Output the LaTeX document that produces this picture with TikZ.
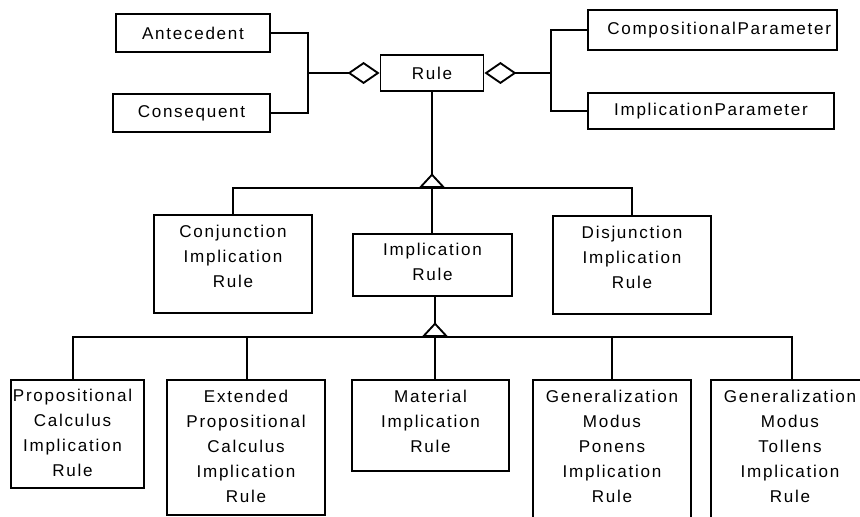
\documentclass[tikz,border=0pt]{standalone}
\usepackage{fontspec}
\setmainfont[LetterSpace=10]{Liberation Sans}
\usetikzlibrary{arrows.meta}
\newcommand\mlines[1]{\begin{tabular}{@{}c@{}}#1\end{tabular}}
\newcommand\upby[2]{\raisebox{#1}[\height][\depth]{#2}}
\tikzset{
  aggr/.tip={Diamond[open,length=24pt,width=16.5pt,line width=1.4pt]},
  inh/.tip={Triangle[open,reversed,length=11pt,width=20pt,line width=1.4pt]}}
\begin{document}
\begin{tikzpicture}[x=0.75pt,y=-0.75pt,
  umlbox/.style={draw,line width=1.4pt,inner sep=0pt,align=center,
    font={\fontsize{12.8}{18.75}\selectfont}},
  conn/.style={line width=1.4pt}]
\useasboundingbox (0,0) rectangle (860,517);
\clip (0,0) rectangle (860,517);
\fill[white] (0,0) rectangle (860,517);
% top row
\node[umlbox,minimum width=115.5pt,minimum height=28.5pt] (ante) at (193,33) {Antecedent};
\node[umlbox,minimum width=117.75pt,minimum height=28.5pt] (cons) at (191.5,113) {Consequent};
\node[umlbox,minimum width=77.25pt,minimum height=27pt] (rule) at (432,73) {Rule};
\node[umlbox,minimum width=186.75pt,minimum height=30pt] (cp) at (712.5,30) {\hspace*{10pt}CompositionalParameter};
\node[umlbox,minimum width=184.5pt,minimum height=27pt] (ip) at (711,111) {ImplicationParameter};
% middle row
\node[umlbox,minimum width=118.5pt,minimum height=73.5pt] (conj) at (233,264) {\upby{4.9pt}{\mlines{Conjunction\\Implication\\Rule}}};
\node[umlbox,minimum width=119.25pt,minimum height=46.5pt] (impl) at (432.5,265) {\upby{1.5pt}{\mlines{Implication\\Rule}}};
\node[umlbox,minimum width=118.5pt,minimum height=73.5pt] (disj) at (632,265) {\upby{5.2pt}{\mlines{Disjunction\\Implication\\Rule}}};
% bottom row
\node[umlbox,minimum width=99.75pt,minimum height=81pt] (prop) at (77.5,434) {\mlines{Propositional\\Calculus\\Implication\\Rule}\hspace*{7.5pt}};
\node[umlbox,minimum width=118.5pt,minimum height=101.25pt] (ext) at (246,447.5) {\mlines{Extended\\Propositional\\Calculus\\Implication\\Rule}};
\node[umlbox,minimum width=117.75pt,minimum height=68.25pt] (mat) at (430.5,425.5) {\upby{2.6pt}{\mlines{Material\\Implication\\Rule}}};
\node[umlbox,minimum width=118.5pt,minimum height=112.5pt] (gmp) at (612,455) {\upby{5.6pt}{\mlines{Generalization\\Modus\\Ponens\\Implication\\Rule}}};
\node[umlbox,minimum width=118.5pt,minimum height=112.5pt] (gmt) at (790,455) {\upby{5.6pt}{\mlines{Generalization\\Modus\\Tollens\\Implication\\Rule}}};
% junction points
\coordinate (jl) at (308,73);
\coordinate (jr) at (551,73);
\coordinate (t1) at (432,188);
\coordinate (t2) at (435,337);
% aggregation
\draw[conn] (ante.east) -| (jl) |- (cons.east);
\draw[conn,-aggr] (jl) -- (rule.west);
\draw[conn,aggr-] (rule.east) -- (jr);
\draw[conn] (cp.west) -| (jr) |- (ip.west);
% generalization 1
\draw[conn,-inh] (rule.south) -- (t1);
\draw[conn] (conj.north) |- (t1) -| (disj.north);
\draw[conn] (t1) -- (t1 |- impl.north);
% generalization 2
\draw[conn,-inh] (t2 |- impl.south) -- (t2);
\draw[conn] ([xshift=-3.4pt]prop.north) |- (t2) -| ([xshift=1.5pt]gmt.north);
\draw[conn] ([xshift=0.75pt]ext.north) -- ([xshift=0.75pt]ext.north |- t2);
\draw[conn] (gmp.north) -- (gmp.north |- t2);
\draw[conn] (t2) -- (t2 |- mat.north);
\end{tikzpicture}
\end{document}
